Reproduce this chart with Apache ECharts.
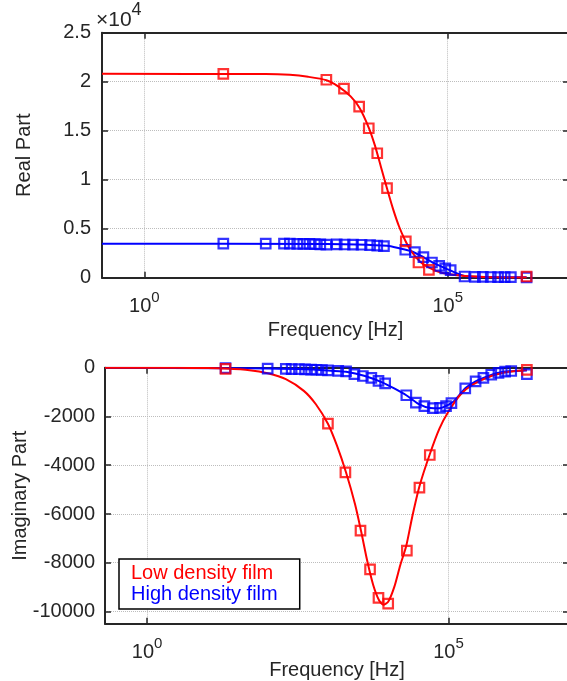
<!DOCTYPE html>
<html>
<head>
<meta charset="utf-8">
<script src="https://cdn.jsdelivr.net/npm/echarts@6/dist/echarts.min.js"></script>
<style>
  html, body { margin: 0; padding: 0; background: #ffffff; }
  #chart { width: 567px; height: 681px; }
</style>
</head>
<body>
<div id="chart"></div>
<script>
// ---- Measured impedance, low density film ----
const lowFreq = [20, 1000, 1950, 3470, 5000, 6900, 10000, 20400, 33000, 49000, 2000000];
const lowReal = [20800, 20200, 19300, 17450, 15250, 12700, 9150, 3700, 1550, 800, 120];
const lowImag = [-50, -2290, -4290, -6680, -8270, -9440, -9680, -7500, -4920, -3580, -90];

// ---- Measured impedance, high density film ----
const highFreq = [20, 100, 200, 250, 331, 417, 525, 646, 794, 1000, 1480, 2000, 2750, 3800, 5250, 6900, 8900,
  20000, 28800, 39800, 55000, 72400, 91200, 112000, 190000, 282000, 380000, 513000, 676000, 871000, 1100000, 2000000];
const highReal = [3480, 3480, 3470, 3470, 3460, 3460, 3450, 3420, 3400, 3380, 3400, 3390, 3380, 3360, 3330, 3280, 3220,
  2850, 2600, 2100, 1550, 1200, 950, 780, 120, 90, 80, 70, 60, 55, 50, 40];
const highImag = [-20, -40, -50, -55, -60, -65, -75, -85, -95, -110, -130, -150, -260, -340, -420, -540, -640,
  -1130, -1430, -1580, -1660, -1650, -1580, -1450, -845, -560, -420, -290, -210, -165, -135, -260];

// ---- Fitted model curves ----
const lowFitRealFreq = [0.2, 100, 250, 500, 1000, 1585, 2512, 3548, 5012, 6310, 7943, 10000, 12589, 15849, 19953,
  25119, 35481, 50119, 79433, 158489, 398107, 2000000];
const lowFitReal = [20800, 20790, 20700, 20500, 20150, 19500, 18500, 17300, 15300, 13500, 11300, 9100, 7000, 5200, 3800,
  2700, 1600, 1000, 500, 220, 80, 20];
const lowFitImagFreq = [0.2, 3.16, 10, 20, 50, 100, 200, 398, 631, 1000, 1413, 2000, 2818, 3548, 4467, 5623, 7079, 8318,
  10000, 12589, 15849, 19953, 25119, 33113, 48978, 70795, 100000, 158489, 251189, 501187, 1000000, 2000000];
const lowFitImag = [0, -5, -15, -35, -100, -230, -470, -950, -1500, -2300, -3200, -4300, -5600, -6700, -7900, -8900, -9550, -9720,
  -9600, -9000, -8100, -7300, -6100, -4850, -3550, -2500, -1800, -1100, -700, -350, -170, -80];

const highFitRealFreq = [0.2, 1000, 3162, 10000, 15849, 25119, 39811, 63096, 100000, 141254, 199526, 398107, 1000000, 2000000];
const highFitReal = [3470, 3440, 3400, 3250, 3000, 2700, 2100, 1400, 850, 450, 150, 70, 50, 40];
const highFitImagFreq = [0.2, 20, 100, 316, 1000, 2000, 3981, 7943, 12589, 19953, 31623, 50119, 70795, 100000, 125893,
  190000, 282000, 398107, 630957, 1000000, 2000000];
const highFitImag = [0, -20, -35, -55, -110, -170, -330, -600, -850, -1130, -1480, -1650, -1660, -1520, -1350,
  -845, -560, -400, -230, -150, -110];

// ---- Axis ticks ----
const freqTicks = [1, 100000];
const realTicks = [0, 5000, 10000, 15000, 20000, 25000];
const imagTicks = [-10000, -8000, -6000, -4000, -2000, 0];

const FONT = "'Liberation Sans', Arial, Helvetica, sans-serif";
const INK = '#262626';
const GRIDC = '#bdbdbd';
const RED = '#ff0000';
const BLUE = '#0000ff';

function pairs(xs, ys) { return xs.map((x, i) => [x, ys[i]]); }

const axisLine = { show: true, onZero: false, lineStyle: { color: INK, width: 2 } };
const tickStyle = { color: INK, width: 1.5 };
const dotted = { show: true, lineStyle: { color: GRIDC, type: 'dotted', width: 1 } };

function freqAxis(gridIndex, position, main, nameGap) {
  return {
    type: 'log', logBase: 10, gridIndex, position, min: 0.2, max: 1e7,
    axisLine,
    axisTick: { show: true, inside: true, length: 6, customValues: freqTicks, lineStyle: tickStyle },
    axisLabel: {
      show: main, customValues: freqTicks, margin: 13,
      formatter: v => '{b|10}{s|' + Math.round(Math.log10(v)) + '}',
      rich: {
        b: { fontSize: 20, fontFamily: FONT, color: INK, lineHeight: 26, verticalAlign: 'bottom' },
        s: { fontSize: 15, fontFamily: FONT, color: INK, lineHeight: 15, verticalAlign: 'top' }
      }
    },
    splitLine: main ? dotted : { show: false },
    minorTick: { show: false }, minorSplitLine: { show: false },
    name: main ? 'Frequency [Hz]' : '', nameLocation: 'middle', nameGap, nameMoveOverlap: false,
    nameTextStyle: { fontSize: 20, fontFamily: FONT, color: INK }
  };
}

function valueAxis(gridIndex, position, main, min, max, ticks, fmt, name, nameGap, margin) {
  return {
    type: 'value', gridIndex, position, min, max,
    axisLine,
    axisTick: { show: true, inside: true, length: 6, customValues: ticks, lineStyle: tickStyle },
    axisLabel: { show: main, customValues: ticks, formatter: fmt, margin, fontSize: 20, fontFamily: FONT, color: INK },
    splitLine: main ? dotted : { show: false },
    name: main ? name : '', nameLocation: 'middle', nameGap, nameRotate: 90, nameMoveOverlap: false,
    nameTextStyle: { fontSize: 20, fontFamily: FONT, color: INK }
  };
}

function lineSeries(name, xi, data, color) {
  return {
    type: 'line', name, xAxisIndex: xi, yAxisIndex: xi, data, showSymbol: false, symbol: 'none',
    smooth: 0.25, lineStyle: { color, width: 2 }, silent: true, z: 2
  };
}
function markerSeries(name, xi, data, color) {
  return {
    type: 'scatter', name, xAxisIndex: xi, yAxisIndex: xi, data, symbol: 'rect', symbolSize: 9.5,
    itemStyle: { color: 'rgba(0,0,0,0)', borderColor: color, borderWidth: 2.2 }, silent: true, z: 3
  };
}

const chart = echarts.init(document.getElementById('chart'), null, { renderer: 'canvas' });
chart.setOption({
  animation: false,
  backgroundColor: '#ffffff',
  grid: [
    { left: 102, right: -2, top: 32.7, height: 245, outerBoundsMode: 'none', containLabel: false },
    { left: 105, right: -2, top: 367.7, height: 256, outerBoundsMode: 'none', containLabel: false }
  ],
  xAxis: [
    freqAxis(0, 'bottom', true, 43),
    freqAxis(0, 'top', false, 0),
    freqAxis(1, 'bottom', true, 37),
    freqAxis(1, 'top', false, 0)
  ],
  yAxis: [
    valueAxis(0, 'left', true, 0, 25000, realTicks, v => String(v / 10000), 'Real Part', 68, 11),
    valueAxis(0, 'right', false, 0, 25000, realTicks, null, '', 0, 0),
    valueAxis(1, 'left', true, -10500, 0, imagTicks, v => String(v), 'Imaginary Part', 75, 10),
    valueAxis(1, 'right', false, -10500, 0, imagTicks, null, '', 0, 0)
  ],
  legend: {
    data: [
      { name: 'Low density film', textStyle: { color: RED } },
      { name: 'High density film', textStyle: { color: BLUE } }
    ],
    orient: 'vertical', left: 119, top: 559, itemWidth: 0, itemHeight: 0, itemGap: 0,
    padding: [4, 22, 4, 6], backgroundColor: '#ffffff', borderColor: '#000000', borderWidth: 1.5,
    borderRadius: 0, selectedMode: false,
    textStyle: { fontSize: 20, fontFamily: FONT, lineHeight: 21 }
  },
  graphic: [{
    type: 'text', left: 96, top: 1,
    style: {
      text: '{a|×10}{s|4}',
      rich: {
        a: { fontSize: 21, fontFamily: FONT, fill: INK, lineHeight: 30, verticalAlign: 'bottom' },
        s: { fontSize: 18, fontFamily: FONT, fill: INK, lineHeight: 18, verticalAlign: 'top' }
      }
    }
  }],
  series: [
    lineSeries('High density fit', 0, pairs(highFitRealFreq, highFitReal), BLUE),
    markerSeries('High density film', 0, pairs(highFreq, highReal), BLUE),
    lineSeries('Low density fit', 0, pairs(lowFitRealFreq, lowFitReal), RED),
    markerSeries('Low density film', 0, pairs(lowFreq, lowReal), RED),
    lineSeries('High density fit', 2, pairs(highFitImagFreq, highFitImag), BLUE),
    markerSeries('High density film', 2, pairs(highFreq, highImag), BLUE),
    lineSeries('Low density fit', 2, pairs(lowFitImagFreq, lowFitImag), RED),
    markerSeries('Low density film', 2, pairs(lowFreq, lowImag), RED)
  ]
});
</script>
</body>
</html>
